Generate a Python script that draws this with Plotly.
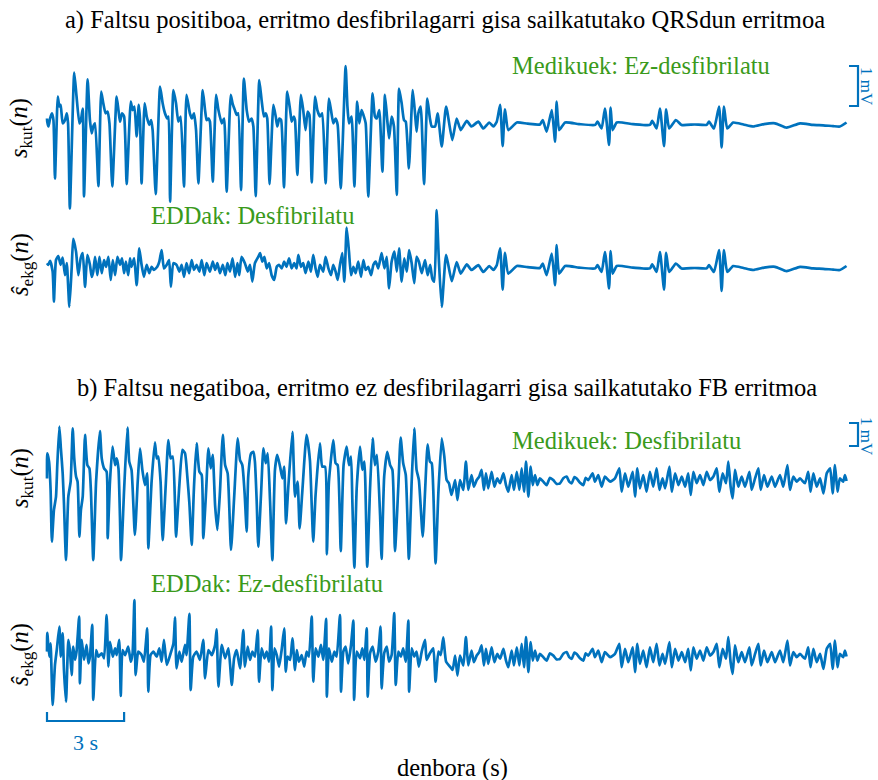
import plotly.graph_objects as go

# ---------------- data (time in s, amplitude in mV) ----------------
# Panel a) : s_kut(n) before compressions stop
a_kut_head = [(0.00,0.15),(0.01,0.07),(0.06,-0.05),(0.12,0.15),(0.19,0.28),(0.25,0.11),(0.31,-1.35),(0.42,0.70),
 (0.48,0.45),(0.53,0.49),(0.61,0.03),(0.70,0.11),(0.77,0.28),(0.82,0.03),(0.89,-2.10),(1.06,1.30),(1.15,0.70),
 (1.26,0.03),(1.32,0.11),(1.39,0.40),(1.44,-1.80),(1.58,1.13),(1.67,0.11),(1.74,-0.22),(1.80,-0.05),(1.87,0.03),
 (2.00,-1.54),(2.11,0.82),(2.19,0.53),(2.28,0.28),(2.36,0.32),(2.43,0.03),(2.54,-1.55),(2.71,0.70),(2.78,0.36),
 (2.84,0.07),(2.92,0.28),(3.00,0.20),(3.10,-1.49),(3.26,0.57),(3.33,0.36),(3.40,0.45),(3.49,-0.30),(3.57,0.49),
 (3.62,0.11),(3.68,-1.47),(3.80,0.53),(3.88,0.20),(3.98,-0.01),(4.05,0.11),(4.11,-0.14),(4.23,-1.74),(4.40,0.95),
 (4.50,0.53),(4.59,0.28),(4.68,0.15),(4.73,0.20),(4.79,-1.93),(4.92,0.86),(5.02,0.53),(5.11,0.07),(5.20,0.20),
 (5.33,-1.55),(5.43,0.74),(5.56,0.28),(5.64,0.15),(5.72,0.28),(5.80,-0.14),(5.89,-1.47),(6.06,0.86),(6.15,0.36),
 (6.21,0.11),(6.28,0.15),(6.34,0.07),(6.45,-1.43),(6.58,0.74),(6.67,0.36),(6.80,0.03),(6.89,0.15),(6.99,-1.68),
 (7.15,0.74),(7.22,0.53),(7.31,0.36),(7.38,0.24),(7.44,0.28),(7.55,-1.64),(7.66,1.15),(7.77,0.36),(7.86,0.07),
 (7.96,0.15),(8.03,-0.05),(8.12,-1.79),(8.26,1.11),(8.35,0.61),(8.44,0.20),(8.51,0.28),(8.57,0.15),(8.66,-1.49),
 (8.81,0.49),(8.90,0.20),(8.96,-0.05),(9.04,0.15),(9.11,0.11),(9.22,-1.57),(9.35,0.82),(9.46,0.36),(9.52,0.07),
 (9.60,0.20),(9.65,0.11),(9.74,-1.26),(9.88,0.74),(9.97,0.36),(10.06,-0.14),(10.14,0.32),(10.21,0.24),(10.30,-1.45),
 (10.43,0.70),(10.52,0.36),(10.62,0.20),(10.71,0.28),(10.84,-1.47),(10.97,0.65),(11.05,0.36),(11.14,0.03),
 (11.23,0.15),(11.31,-0.01),(11.43,-1.60),(11.62,1.46),(11.69,0.45),(11.75,0.03),(11.85,0.20),(11.96,-1.55),
 (12.07,0.57),(12.15,0.03),(12.24,0.36),(12.31,0.24),(12.40,0.03),(12.50,-1.80),(12.67,0.78),(12.76,0.20),
 (12.83,0.15),(12.93,0.36),(13.05,-1.18),(13.15,0.74),(13.24,0.11),(13.31,-0.35),(13.41,0.20),(13.50,-0.05),
 (13.61,-1.76),(13.70,0.90),(13.80,0.53),(13.89,0.11),(13.96,0.07),(14.08,-1.10),(14.23,0.86),(14.32,0.28),
 (14.38,-0.18),(14.45,0.28),(14.54,0.45),(14.67,-1.49),(14.80,0.65),(14.90,0.15),(14.97,-0.05),(15.10,-0.05),
 (15.20,0.28),(15.36,-0.55),(15.53,0.45),(15.77,-0.39)]

# Panel a) : filtered ECG estimate before compressions stop
a_ekg_head = [(0.00,0.12),(0.05,0.08),(0.12,0.18),(0.22,-0.09),(0.27,-0.84),(0.35,0.20),(0.44,0.30),(0.53,0.08),
 (0.61,0.26),(0.70,-0.18),(0.77,0.12),(0.87,-0.97),(0.96,-0.01),(1.02,0.73),(1.13,0.41),(1.22,-0.18),(1.31,0.24),
 (1.39,0.37),(1.48,-0.47),(1.57,0.33),(1.67,0.08),(1.74,-0.22),(1.80,-0.09),(1.87,0.28),(1.96,-0.18),(2.04,0.28),
 (2.13,-0.13),(2.22,0.20),(2.30,0.03),(2.39,0.28),(2.48,-0.30),(2.56,0.20),(2.65,-0.18),(2.74,0.28),(2.84,0.08),
 (2.92,0.24),(3.00,-0.13),(3.07,0.16),(3.16,-0.18),(3.23,0.24),(3.29,0.03),(3.39,0.24),(3.49,-0.43),(3.59,0.49),
 (3.68,0.08),(3.77,-0.22),(3.88,0.08),(3.98,-0.13),(4.07,0.03),(4.16,-0.05),(4.29,0.03),(4.37,0.16),(4.46,0.45),
 (4.55,-0.01),(4.66,0.08),(4.75,0.20),(4.82,-0.47),(4.92,0.12),(5.04,0.08),(5.15,-0.09),(5.24,0.08),(5.33,-0.22),
 (5.43,0.12),(5.53,-0.13),(5.63,0.20),(5.72,-0.05),(5.82,0.08),(5.93,-0.09),(6.02,0.20),(6.12,-0.18),(6.21,0.12),
 (6.34,-0.09),(6.45,0.16),(6.54,-0.05),(6.63,0.12),(6.73,-0.13),(6.84,0.08),(6.94,-0.18),(7.02,0.12),(7.12,-0.09),
 (7.22,0.24),(7.32,-0.22),(7.41,0.12),(7.48,-0.18),(7.57,0.28),(7.70,0.12),(7.81,-0.09),(7.90,0.08),(7.99,-0.34),
 (8.09,0.12),(8.22,0.28),(8.29,0.37),(8.38,0.16),(8.46,0.28),(8.55,-0.01),(8.64,0.12),(8.74,-0.18),(8.84,-0.30),
 (8.94,0.03),(9.03,0.08),(9.13,-0.01),(9.23,0.16),(9.32,0.03),(9.42,0.24),(9.52,-0.01),(9.62,0.12),(9.71,-0.01),
 (9.78,0.33),(9.88,0.03),(9.97,0.12),(10.06,-0.13),(10.17,0.16),(10.27,-0.09),(10.36,0.33),(10.45,-0.01),
 (10.53,-0.22),(10.62,0.08),(10.75,-0.09),(10.84,0.28),(10.95,-0.01),(11.05,-0.18),(11.14,0.08),(11.23,-0.09),
 (11.31,-0.30),(11.40,0.08),(11.49,0.37),(11.57,-0.34),(11.66,1.01),(11.75,0.41),(11.83,-0.18),(11.92,0.03),
 (12.01,-0.13),(12.11,0.16),(12.22,-0.22),(12.31,0.20),(12.40,-0.05),(12.50,0.03),(12.61,-0.18),(12.70,0.08),
 (12.79,0.16),(12.89,-0.01),(13.02,0.37),(13.13,-0.01),(13.22,0.28),(13.31,-0.51),(13.41,0.16),(13.52,0.41),
 (13.61,-0.09),(13.70,0.49),(13.80,-0.34),(13.90,0.24),(14.00,-0.09),(14.09,0.45),(14.19,0.12),(14.29,-0.38),
 (14.38,0.28),(14.47,0.16),(14.58,-0.13),(14.71,0.20),(14.81,-0.18),(14.91,0.08),(14.99,-0.26),(15.07,-0.34),
 (15.16,1.45),(15.25,0.16),(15.36,-0.97),(15.53,0.33),(15.75,-0.33)]

# Panel a) : common part after compressions stop (QRS complexes)
a_tail = [(15.94,0.15),(16.10,-0.14),(16.33,0.09),(16.52,-0.05),(16.78,0.07),(16.98,-0.10),(17.21,0.05),(17.37,-0.05),
 (17.50,0.07),(17.63,0.49),(17.73,-0.54),(17.82,0.38),(17.95,-0.14),(18.28,0.05),(18.70,0.02),(19.18,0.00),(19.29,0.11),
 (19.44,-0.18),(19.64,0.36),(19.77,-0.43),(19.83,0.57),(19.93,-0.14),(20.16,0.05),(20.70,0.01),(21.33,-0.01),(21.42,0.07),
 (21.58,-0.10),(21.71,0.40),(21.87,-0.51),(21.93,0.42),(22.01,-0.14),(22.17,0.05),(22.80,0.01),(23.46,-0.01),(23.55,0.09),
 (23.72,-0.10),(23.85,0.40),(24.01,-0.54),(24.09,0.38),(24.21,-0.10),(24.47,0.11),(24.69,-0.01),(25.20,0.00),(25.67,-0.01),
 (25.76,0.07),(25.95,-0.10),(26.15,0.45),(26.25,-0.57),(26.34,0.45),(26.47,-0.10),(26.70,0.05),(27.10,0.00),(27.48,-0.05),
 (27.90,0.01),(28.33,0.03),(28.78,-0.08),(29.30,0.03),(29.81,-0.01),(30.20,-0.02),(30.59,-0.04),(30.85,-0.05),(31.11,0.05)]

# Panel b) : s_kut(n) during compressions
b_kut_head = [(0.00,0.09),(0.01,1.18),(0.08,0.82),(0.14,-0.41),(0.19,-2.66),(0.27,-1.28),(0.35,-0.70),(0.40,0.67),
 (0.48,2.34),(0.54,1.40),(0.61,0.31),(0.66,-0.99),(0.74,-3.46),(0.83,-0.70),(0.92,-0.05),(1.00,2.27),(1.06,0.96),
 (1.13,0.17),(1.19,-0.05),(1.26,-2.44),(1.32,-1.28),(1.39,-0.70),(1.48,1.98),(1.57,0.67),(1.65,0.53),(1.71,-0.49),
 (1.80,-3.46),(1.91,-0.05),(2.06,2.15),(2.13,0.96),(2.22,0.53),(2.32,0.38),(2.36,-2.51),(2.45,-0.05),(2.55,1.47),
 (2.65,0.67),(2.71,0.96),(2.78,0.53),(2.84,-1.64),(2.88,-3.46),(3.00,-0.41),(3.13,2.30),(3.20,0.82),(3.29,0.46),
 (3.42,-2.37),(3.53,-0.05),(3.62,1.40),(3.71,0.46),(3.81,-0.20),(3.90,0.31),(3.94,-2.95),(4.07,-0.05),(4.20,1.66),
 (4.27,0.96),(4.33,1.04),(4.42,-0.05),(4.50,-2.59),(4.62,-0.20),(4.72,1.76),(4.81,0.96),(4.89,1.04),(4.98,-0.99),
 (5.02,-2.44),(5.15,-0.20),(5.27,1.33),(5.37,1.18),(5.46,0.17),(5.54,-0.99),(5.63,-2.80),(5.72,-0.27),(5.82,1.62),
 (5.93,0.38),(6.02,0.24),(6.08,-2.51),(6.19,-0.49),(6.28,1.40),(6.37,0.53),(6.45,1.11),(6.54,-1.07),(6.63,-2.15),
 (6.73,-0.49),(6.84,1.98),(6.93,0.67),(7.03,0.31),(7.16,-3.02),(7.28,-0.78),(7.42,1.83),(7.51,0.89),(7.60,0.67),
 (7.69,-0.56),(7.77,-2.22),(7.83,0.17),(7.94,1.18),(8.03,1.25),(8.09,0.82),(8.16,-0.92),(8.22,-2.88),(8.33,-0.56),
 (8.42,1.40),(8.51,0.75),(8.59,1.18),(8.68,-0.92),(8.77,-3.46),(8.87,0.46),(8.96,1.11),(9.07,0.60),(9.16,0.09),
 (9.23,0.60),(9.30,-1.86),(9.39,-0.27),(9.55,2.12),(9.65,-0.70),(9.75,-0.05),(9.83,-2.08),(9.93,-0.56),(10.10,1.98),
 (10.23,0.89),(10.30,-1.07),(10.36,-2.66),(10.45,-0.63),(10.62,1.62),(10.71,0.60),(10.82,0.60),(10.89,-3.21),
 (10.97,-0.05),(11.14,1.76),(11.23,0.75),(11.31,0.67),(11.43,-3.07),(11.54,0.67),(11.66,1.47),(11.75,0.67),
 (11.83,1.04),(11.88,-0.85),(11.96,-3.79),(12.05,-0.34),(12.18,1.47),(12.27,0.46),(12.35,0.82),(12.46,-3.75),
 (12.57,-0.34),(12.67,1.83),(12.76,0.67),(12.84,1.11),(12.96,-1.50),(13.02,-3.41),(13.12,0.17),(13.24,1.25),
 (13.35,0.67),(13.44,0.46),(13.54,-3.07),(13.67,-0.27),(13.76,1.86),(13.86,0.75),(13.96,0.24),(14.08,-3.41),
 (14.19,-0.05),(14.29,2.27),(14.38,0.46),(14.47,0.02),(14.62,-2.44),(14.71,-0.49),(14.81,1.57),(14.90,0.82),
 (14.97,0.75),(15.03,-0.41),(15.12,-3.60),(15.23,-0.49),(15.36,1.83),(15.46,1.04),(15.55,0.02),(15.64,-0.12),
 (15.74,-0.63)]

# Panel b) : filtered ECG estimate during compressions
b_ekg_head = [(0.00,0.19),(0.01,1.01),(0.09,-0.03),(0.14,0.55),(0.22,-2.13),(0.31,-0.39),(0.38,0.26),(0.48,1.28),
 (0.54,-0.03),(0.61,0.99),(0.66,-0.61),(0.74,-1.99),(0.83,0.70),(0.89,0.26),(0.96,-0.83),(1.02,0.41),(1.09,-0.17),
 (1.15,0.19),(1.25,1.71),(1.28,-1.19),(1.35,0.70),(1.44,-0.17),(1.54,0.48),(1.61,-0.32),(1.67,-0.03),(1.76,1.35),
 (1.80,-1.91),(1.91,0.26),(2.00,-0.03),(2.13,0.12),(2.22,-0.10),(2.32,1.78),(2.39,-0.46),(2.45,0.62),(2.56,-0.03),
 (2.65,0.33),(2.71,0.04),(2.81,0.70),(2.87,-1.74),(2.94,0.26),(3.04,0.04),(3.16,0.41),(3.26,-0.25),(3.33,0.12),
 (3.40,2.43),(3.45,-0.83),(3.55,0.19),(3.68,0.04),(3.77,-0.25),(3.90,1.20),(3.94,-1.55),(4.03,0.04),(4.14,0.19),
 (4.27,-0.03),(4.37,0.33),(4.46,-0.25),(4.55,0.70),(4.66,-0.39),(4.79,0.04),(4.92,0.55),(4.98,1.68),(5.04,-0.54),
 (5.15,0.19),(5.24,-0.25),(5.37,0.48),(5.43,0.04),(5.54,1.83),(5.59,-1.48),(5.69,-0.03),(5.82,0.19),(5.95,-0.17),
 (6.08,0.70),(6.15,-0.97),(6.28,0.26),(6.41,0.04),(6.54,0.48),(6.60,1.16),(6.67,-1.33),(6.80,0.48),(6.93,-0.10),
 (7.06,0.33),(7.19,-1.26),(7.28,-0.10),(7.38,0.26),(7.51,-0.54),(7.64,1.13),(7.70,-0.46),(7.81,0.41),(7.90,-0.17),
 (7.99,0.19),(8.09,-0.03),(8.20,1.13),(8.25,-1.12),(8.35,0.33),(8.46,-0.10),(8.55,0.19),(8.64,-0.25),(8.72,1.28),
 (8.77,-1.48),(8.85,0.33),(8.94,0.04),(9.03,-0.46),(9.13,0.26),(9.23,1.20),(9.29,-0.68),(9.36,-0.03),(9.46,-0.17),
 (9.55,0.77),(9.65,-0.61),(9.72,0.26),(9.80,-0.25),(9.91,0.04),(10.01,-0.46),(10.10,0.19),(10.19,-0.03),
 (10.30,1.71),(10.36,-1.12),(10.45,0.33),(10.56,-0.03),(10.66,0.48),(10.75,-0.17),(10.86,1.61),(10.89,-1.77),
 (10.97,0.33),(11.08,-0.25),(11.18,0.19),(11.27,-0.03),(11.40,1.78),(11.44,-1.55),(11.53,0.19),(11.62,0.41),
 (11.72,-0.32),(11.83,0.48),(11.92,1.54),(11.95,-1.91),(12.05,0.19),(12.18,-0.10),(12.27,0.33),(12.35,-0.17),
 (12.44,1.20),(12.48,-1.77),(12.57,0.12),(12.67,0.41),(12.79,-0.25),(12.89,0.19),(12.98,1.28),(13.02,-1.41),
 (13.12,0.12),(13.22,0.41),(13.31,-0.25),(13.41,0.04),(13.51,1.86),(13.57,-1.26),(13.67,0.19),(13.77,-0.03),
 (13.86,0.33),(13.96,-0.25),(14.06,1.54),(14.09,-1.55),(14.19,0.33),(14.29,-0.03),(14.38,0.19),(14.47,-0.46),
 (14.58,0.19),(14.71,0.70),(14.77,-0.17),(14.90,0.12),(15.03,0.33),(15.12,-1.12),(15.23,0.19),(15.32,0.04),
 (15.42,0.81),(15.53,-0.25),(15.68,-0.46),(15.78,-0.61)]

# Panel b) : common part after compressions stop (VF)
b_tail = [(15.88,0.02),(15.97,-0.85),(16.07,0.02),(16.20,-0.41),(16.30,0.82),(16.39,-0.41),(16.52,0.24),(16.61,-0.27),
 (16.72,0.02),(16.82,0.17),(16.91,0.46),(17.00,-0.41),(17.08,0.31),(17.17,-0.34),(17.30,0.38),(17.41,-0.27),
 (17.52,0.09),(17.63,-0.12),(17.76,0.31),(17.86,-0.20),(17.95,-0.49),(18.08,0.24),(18.17,-0.41),(18.28,0.38),
 (18.38,-0.41),(18.47,0.53),(18.56,-0.49),(18.64,0.82),(18.73,-0.70),(18.82,0.60),(18.90,-0.20),(18.99,0.24),
 (19.08,-0.20),(19.18,0.09),(19.31,-0.05),(19.44,-0.20),(19.57,0.12),(19.70,0.02),(19.83,-0.15),(19.96,-0.12),
 (20.09,0.10),(20.22,0.17),(20.32,-0.05),(20.42,-0.12),(20.52,0.15),(20.61,0.09),(20.74,-0.10),(20.87,-0.20),
 (20.96,0.12),(21.06,0.02),(21.23,0.31),(21.32,-0.05),(21.45,0.24),(21.58,-0.27),(21.71,0.17),
 (21.91,-0.05),(22.10,0.09),(22.27,0.53),(22.36,-0.49),(22.49,0.31),(22.62,-0.27),(22.79,0.38),(22.88,-0.70),
 (22.97,0.53),(23.07,-0.34),(23.20,0.24),(23.33,-0.49),(23.46,0.38),(23.59,-0.27),(23.72,0.53),(23.83,-0.41),
 (23.95,0.09),(24.05,-0.34),(24.22,0.60),(24.31,-0.49),(24.44,0.31),(24.57,-0.20),(24.70,0.17),(24.83,-0.27),
 (24.95,0.31),(25.05,-0.63),(25.15,0.38),(25.28,-0.12),(25.41,0.24),(25.54,-0.20),(25.67,0.38),(25.80,0.02),
 (25.93,0.17),(26.06,0.53),(26.16,-0.49),(26.29,0.31),(26.42,-0.12),(26.51,0.82),(26.60,-0.27),(26.68,-0.78),
 (26.77,0.46),(26.90,-0.27),(27.03,0.17),(27.16,-0.27),(27.33,0.38),(27.42,-0.41),(27.55,0.09),(27.68,0.53),
 (27.77,-0.41),(27.90,0.24),(28.03,-0.27),(28.20,0.17),(28.33,-0.27),(28.52,0.24),(28.65,-0.27),(28.81,0.67),
 (28.91,-0.41),(29.04,0.17),(29.17,-0.05),(29.30,0.09),(29.49,-0.12),(29.62,0.38),(29.71,-0.49),(29.82,0.31),
 (29.95,-0.27),(30.08,0.09),(30.21,-0.56),(30.34,0.31),(30.47,0.53),(30.57,-0.56),(30.66,0.67),(30.76,-0.49),
 (30.85,0.09),(30.98,-0.05),(31.05,0.24),(31.11,-0.02)]

titles = ["a) Faltsu positiboa, erritmo desfibrilagarri gisa sailkatutako QRSdun erritmoa",
          "b) Faltsu negatiboa, erritmo ez desfibrilagarri gisa sailkatutako FB erritmoa"]
experts = ["Medikuek: Ez-desfibrilatu", "Medikuek: Desfibrilatu"]
aed = ["EDDak: Desfibrilatu", "EDDak: Ez-desfibrilatu"]
ylabels = ["<i>s</i><sub>kut</sub>(<i>n</i>)", "<i>ŝ</i><sub>ekg</sub>(<i>n</i>)"]

# ---------------- layout constants ----------------
W, H = 878, 780
BLUE = "#0072BD"
GREEN = "#3A9A1B"
FONT = "Liberation Serif"
TXT = 24.5
X0, PX_PER_S = 47.0, 25.7            # pixel of t = 0 and pixels per second
# (baseline pixel, pixels per mV) for each of the four strips
strips = {"y": (124.5, 40.0), "y2": (268.0, 40.0), "y3": (480.5, 23.0), "y4": (656.0, 23.0)}

def px2t(px):
    return (px - X0) / PX_PER_S

def py2v(axis, py):
    base, s = strips[axis]
    return (base - py) / s

fig = go.Figure()

signals = [("y", a_kut_head + a_tail), ("y2", a_ekg_head + a_tail),
           ("y3", b_kut_head + b_tail), ("y4", b_ekg_head + b_tail)]
for ax, seg in signals:
    fig.add_trace(go.Scatter(x=[p[0] for p in seg], y=[p[1] for p in seg], yaxis=ax, mode="lines",
                             line=dict(color=BLUE, width=2.7, shape="spline", smoothing=0.5),
                             hoverinfo="skip", showlegend=False))

# 1 mV scale brackets
for ax, top in (("y", 66), ("y3", 423)):
    vt = py2v(ax, top)
    xa, xb = px2t(849), px2t(858)
    fig.add_trace(go.Scatter(x=[xa, xb, xb, xa], y=[vt, vt, vt - 1, vt - 1], yaxis=ax, mode="lines",
                             line=dict(color=BLUE, width=2.2), hoverinfo="skip", showlegend=False))
# 3 s scale bracket
yb, yt = py2v("y4", 721), py2v("y4", 712)
fig.add_trace(go.Scatter(x=[0, 0, 3, 3], y=[yt, yb, yb, yt], yaxis="y4", mode="lines",
                         line=dict(color=BLUE, width=2.2), hoverinfo="skip", showlegend=False))

def ann(text, px, py, size=TXT, color="black", xanchor="center", angle=0):
    fig.add_annotation(text=text, x=px / W, y=1 - py / H, xref="paper", yref="paper",
                       xanchor=xanchor, yanchor="middle", showarrow=False, textangle=angle,
                       borderpad=0, font=dict(family=FONT, size=size, color=color))

ann(titles[0], 445, 20)
ann(titles[1], 447, 388)
ann(experts[0], 511, 65, color=GREEN, xanchor="left")
ann(aed[0], 150, 215, color=GREEN, xanchor="left")
ann(experts[1], 511, 440, color=GREEN, xanchor="left")
ann(aed[1], 150, 583, color=GREEN, xanchor="left")
ann(ylabels[0], 21, 128, angle=-90)
ann(ylabels[1], 21, 265, angle=-90)
ann(ylabels[0], 21, 478, angle=-90)
ann(ylabels[1], 21, 655, angle=-90)
ann("1 mV", 867, 86, size=17, color=BLUE, angle=90)
ann("1 mV", 867, 436, size=17, color=BLUE, angle=90)
ann("3 s", 85, 742, size=22, color=BLUE)
ann("denbora (s)", 452, 768)

layout_axes = {}
for ax, (base, s) in strips.items():
    name = "yaxis" if ax == "y" else "yaxis" + ax[1:]
    cfg = dict(range=[-(H - base) / s, base / s], visible=False, domain=[0, 1], fixedrange=True)
    if ax != "y":
        cfg["overlaying"] = "y"
    layout_axes[name] = cfg

fig.update_layout(width=W, height=H, margin=dict(l=0, r=0, t=0, b=0),
                  paper_bgcolor="white", plot_bgcolor="white",
                  xaxis=dict(range=[px2t(0), px2t(W)], visible=False, fixedrange=True),
                  **layout_axes)

fig.write_html("out.html")
